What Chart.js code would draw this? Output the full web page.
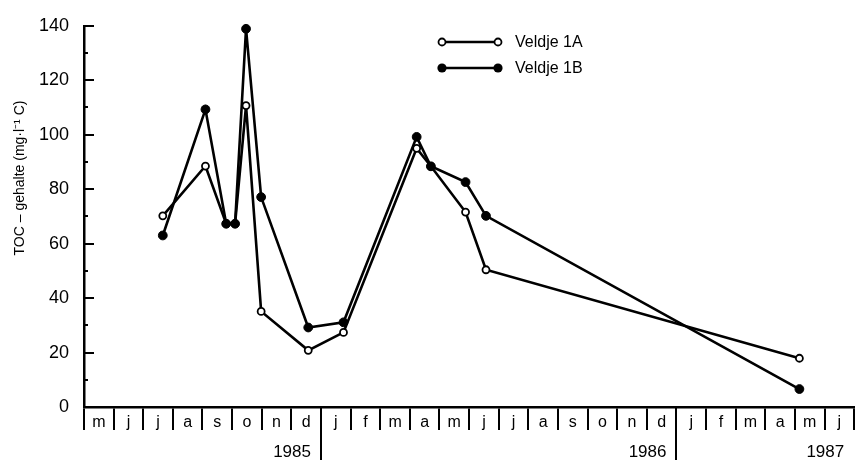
<!DOCTYPE html>
<html>
<head>
<meta charset="utf-8">
<script src="https://cdn.jsdelivr.net/npm/chart.js@4.4.1/dist/chart.umd.min.js"></script>
<style>
  html, body { margin: 0; padding: 0; background: #fff; }
  canvas { display: block; }
</style>
</head>
<body>
<canvas id="toc" width="860" height="460"></canvas>
<script>
// Month letters along the time axis, May 1985 through June 1987
const monthLabels = ['m','j','j','a','s','o','n','d',
                     'j','f','m','a','m','j','j','a','s','o','n','d',
                     'j','f','m','a','m','j'];
const yearLabels = ['1985', '1986', '1987'];
const firstMonth = 4;            // axis starts in May (0 = January)

// Sampling moments, in months counted from 1 May 1985
const sampleMonths = [2.66, 4.10, 4.80, 5.10, 5.47, 5.98, 7.57, 8.76, 11.23, 11.71, 12.88, 13.57, 24.15];

// TOC content (mg C per litre)
const veldje1A = [70.2, 88.5, 67.3, 67.3, 110.7, 35.1, 20.8, 27.4, 95.0, 88.4, 71.6, 50.4, 17.9];
const veldje1B = [63.0, 109.3, 67.3, 67.3, 138.9, 77.1, 29.2, 31.1, 99.2, 88.4, 82.6, 70.2, 6.6];

const seriesNames = ['Veldje 1A', 'Veldje 1B'];
const yTitle = 'TOC – gehalte (mg·l⁻¹ C)';
const yMax = 140, yStep = 20, yMinorStep = 10;

const FONT = "'Liberation Sans', Arial, Helvetica, sans-serif";

function toPoints(values) {
  return values.map((v, i) => ({ x: sampleMonths[i], y: v }));
}

// Hand-drawn style extras: inward ticks, year row, axis title, legend
const decorations = {
  id: 'decorations',
  afterDraw(chart) {
    const { ctx, chartArea, scales } = chart;
    const xs = scales.x, ys = scales.y;
    ctx.save();
    ctx.strokeStyle = '#000';
    ctx.fillStyle = '#000';

    // tick marks pointing into the plot
    ctx.lineWidth = 2;
    for (let v = yMinorStep; v <= yMax; v += yMinorStep) {
      const py = Math.round(ys.getPixelForValue(v));
      const len = v % yStep === 0 ? 10 : 4;
      ctx.beginPath();
      ctx.moveTo(chartArea.left, py);
      ctx.lineTo(chartArea.left + len, py);
      ctx.stroke();
    }

    // year separators and year labels
    const rowTop = chartArea.bottom;
    const total = monthLabels.length;
    ctx.font = '17px ' + FONT;
    ctx.textAlign = 'right';
    ctx.textBaseline = 'middle';
    yearLabels.forEach((label, k) => {
      const end = Math.min(12 * (k + 1) - firstMonth, total);
      const px = xs.getPixelForValue(end);
      if (end < total) {
        ctx.lineWidth = 2;
        ctx.beginPath();
        ctx.moveTo(Math.round(px), rowTop);
        ctx.lineTo(Math.round(px), chart.height);
        ctx.stroke();
      }
      ctx.fillText(label, px - 10, 452);
    });

    // vertical axis title
    ctx.save();
    ctx.translate(20, 178);
    ctx.rotate(-Math.PI / 2);
    ctx.font = '14px ' + FONT;
    ctx.textAlign = 'center';
    ctx.textBaseline = 'middle';
    ctx.fillText(yTitle, 0, 0);
    ctx.restore();

    // legend: marker — line — marker, then name
    const rows = [
      { y: 42, filled: false, r: 3.5 },
      { y: 68, filled: true,  r: 4.6 }
    ];
    ctx.font = '16px ' + FONT;
    ctx.textAlign = 'left';
    ctx.textBaseline = 'middle';
    rows.forEach((row, i) => {
      ctx.lineWidth = 2.6;
      ctx.beginPath();
      ctx.moveTo(442, row.y);
      ctx.lineTo(498, row.y);
      ctx.stroke();
      [442, 498].forEach(cx => {
        ctx.beginPath();
        ctx.arc(cx, row.y, row.r, 0, Math.PI * 2);
        if (row.filled) {
          ctx.fill();
        } else {
          ctx.fillStyle = '#fff';
          ctx.fill();
          ctx.fillStyle = '#000';
          ctx.lineWidth = 1.8;
          ctx.stroke();
        }
      });
      ctx.fillText(seriesNames[i], 515, row.y + 1);
    });

    ctx.restore();
  }
};

new Chart(document.getElementById('toc'), {
  type: 'line',
  data: {
    datasets: [
      {
        label: seriesNames[0],
        data: toPoints(veldje1A),
        order: 1,
        borderColor: '#000',
        borderWidth: 2.6,
        tension: 0,
        pointRadius: 3.5,
        pointBorderWidth: 1.8,
        pointBackgroundColor: '#fff',
        pointBorderColor: '#000',
        clip: false
      },
      {
        label: seriesNames[1],
        data: toPoints(veldje1B),
        order: 0,
        borderColor: '#000',
        borderWidth: 2.6,
        tension: 0,
        pointRadius: 4.4,
        pointBorderWidth: 1,
        pointBackgroundColor: '#000',
        pointBorderColor: '#000',
        clip: false
      }
    ]
  },
  options: {
    responsive: false,
    animation: false,
    events: [],
    layout: { padding: { top: 24, right: 2, left: 0, bottom: 0 } },
    plugins: {
      legend: { display: false },
      tooltip: { enabled: false }
    },
    scales: {
      x: {
        type: 'linear',
        display: false,
        min: 0,
        max: monthLabels.length
      },
      months: {
        type: 'category',
        position: 'bottom',
        labels: monthLabels,
        offset: true,
        afterFit(scale) { scale.height = 53; },
        grid: {
          offset: true,
          drawOnChartArea: false,
          drawTicks: true,
          tickLength: 23,
          color: '#000',
          lineWidth: 2
        },
        border: { display: true, color: '#000', width: 2.5 },
        ticks: {
          autoSkip: false,
          maxRotation: 0,
          padding: -17,
          color: '#000',
          font: { family: FONT, size: 16 }
        }
      },
      y: {
        type: 'linear',
        position: 'left',
        min: 0,
        max: yMax,
        afterFit(scale) { scale.width = 84; },
        grid: { drawOnChartArea: false, drawTicks: false },
        border: { display: true, color: '#000', width: 2.5 },
        ticks: {
          stepSize: yStep,
          padding: 15,
          color: '#000',
          font: { family: FONT, size: 18 }
        }
      }
    }
  },
  plugins: [decorations]
});
</script>
</body>
</html>
